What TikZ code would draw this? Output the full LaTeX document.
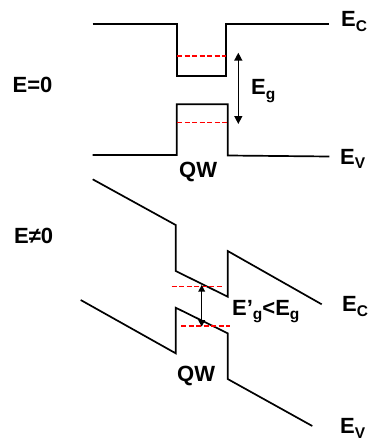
\documentclass[tikz,border=0pt]{standalone}
\usepackage{fontspec}
\setmainfont{Liberation Sans}
\usetikzlibrary{arrows.meta}

\newcommand{\bsub}[1]{\raisebox{-0.4ex}{\fontsize{15.5}{15.5}\selectfont #1}}

\begin{document}
\begin{tikzpicture}[
    x=1pt, y=-1pt,
    band/.style={line width=1.7pt, line join=miter},
    level/.style={draw=red, line width=1.5pt, dash pattern=on 5pt off 2.5pt},
    gap/.style={{Triangle[length=8pt,width=8pt]}-{Triangle[length=8pt,width=8pt]}, line width=1.4pt},
    gapsmall/.style={{Triangle[length=6.5pt,width=6.5pt]}-{Triangle[length=6.5pt,width=6.5pt]}, line width=1.4pt},
    lbl/.style={font=\fontsize{22}{22}\selectfont\bfseries, inner sep=0pt, anchor=base west}
]
    \useasboundingbox (0,0) rectangle (370,441);

    % Flat bands (E=0)
    \draw[band] (92.7,24) -- (176.7,24) -- (176.7,76) -- (225.7,76) -- (225.7,24) -- (329.3,24);
    \draw[band] (92.7,155) -- (176.7,155) -- (176.7,104.3) -- (227.7,104.3) -- (227.7,155.5) -- (329.3,156.5);
    \draw[level] (177,56) -- (226,56);
    \draw[level] (177,122.5) -- (228,122.5);

    \coordinate (egtop) at (238.3,52.7);
    \coordinate (egbot) at (238.3,124);
    \draw[gap] (egtop) -- (egbot);

    \node[lbl] (ec0) at (341,26.7) {E\bsub{C}};
    \node[lbl] (ev0) at (340,164) {E\bsub{V}};
    \node[lbl] (eg0) at (251,95) {E\bsub{g}};
    \node[lbl] (field0) at (12.5,93) {E=0};
    \node[lbl] (qw0) at (179,177.7) {QW};

    % Tilted bands (E!=0)
    \draw[band] (92.7,179.3) -- (175.7,225) -- (175.7,271) -- (227.7,296.7) -- (227.7,251) -- (321.7,304.3);
    \draw[band] (80.7,300) -- (175.7,353.3) -- (175.7,307.7) -- (227.7,333.3) -- (227.7,379) -- (312.3,426);
    \draw[level] (171.7,286.5) -- (221.7,286.5);
    \draw[level] (181,326) -- (230,326);

    \coordinate (egtopb) at (201.7,285);
    \coordinate (egbotb) at (201.7,326.7);
    \draw[gapsmall] (egtopb) -- (egbotb);

    \node[lbl] (ec1) at (342,311.7) {E\bsub{C}};
    \node[lbl] (ev1) at (340,433.5) {E\bsub{V}};
    \node[lbl] (eg1) at (232,315) {E’\bsub{g}<E\bsub{g}};
    \node[lbl] (field1) at (14,243.3) {E≠0};
    \node[lbl] (qw1) at (177,381.7) {QW};
\end{tikzpicture}
\end{document}
